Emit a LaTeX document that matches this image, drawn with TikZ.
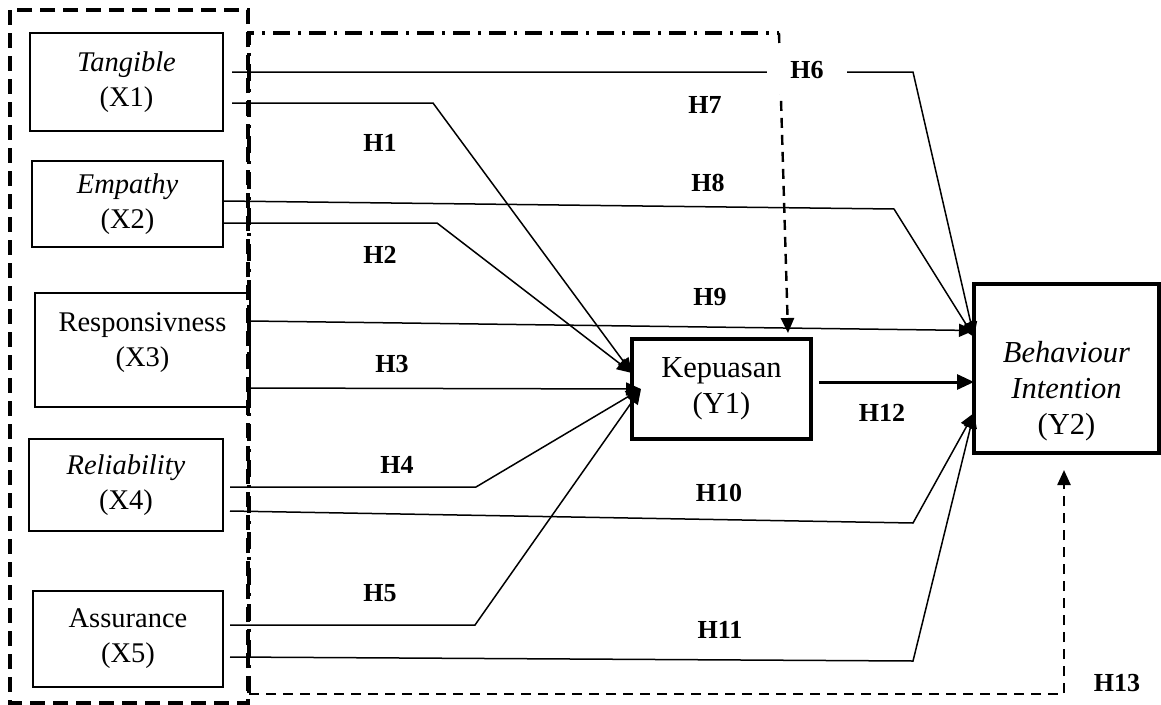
\documentclass[tikz,border=0pt]{standalone}
\usepackage{fontspec}
\setmainfont{Liberation Serif}
\usetikzlibrary{arrows.meta}
\begin{document}
\begin{tikzpicture}[x=1pt,y=1pt,
  varbox/.style={draw, line width=1.4pt, inner sep=0pt, outer sep=0pt, align=center, font=\fontsize{28.5}{35}\selectfont},
  depbox/.style={draw, line width=3.4pt, inner sep=0pt, outer sep=0pt, align=center, font=\fontsize{30.5}{36}\selectfont},
  hyp/.style={font=\fontsize{26}{30}\selectfont\bfseries, inner sep=1pt},
  conn/.style={line width=1.5pt, -{Triangle[length=15pt,width=13pt]}},
  thickconn/.style={line width=3pt, -{Triangle[length=17pt,width=15pt]}},
  grpdash/.style={line width=3.2pt, dash pattern=on 15pt off 8pt},
  grpdashdot/.style={line width=3.2pt, dash pattern=on 17pt off 8pt on 3pt off 8pt},
  hypdash/.style={line width=2.4pt, dash pattern=on 10pt off 7pt, -{Triangle[length=15pt,width=13pt]}}
]
\useasboundingbox (0,0) rectangle (1161,-704);
\fill[white] (0,0) rectangle (1161,-704);

% boxes
\node[varbox, minimum width=193, minimum height=98] (X1) at (126.5,-82) {\itshape Tangible\\(X1)};
\node[varbox, minimum width=191, minimum height=86] (X2) at (127.5,-204) {\itshape Empathy\\(X2)};
\node[varbox, minimum width=215, minimum height=114] (X3) at (142.5,-350) {Responsivness\\(X3)\rule[-20pt]{0pt}{0pt}};
\node[varbox, minimum width=194, minimum height=92] (X4) at (126,-485) {\itshape Reliability\\(X4)};
\node[varbox, minimum width=190, minimum height=96] (X5) at (128,-639) {Assurance\\(X5)};
\node[depbox, minimum width=179, minimum height=100] (Y1) at (721.5,-389) {Kepuasan\\(Y1)};
\node[depbox, minimum width=185, minimum height=169] (Y2) at (1066.5,-368.5) {\itshape\rule{0pt}{67pt}Behaviour\\\itshape Intention\\(Y2)};

% group outlines
\draw[grpdash] (10,-10) rectangle (248,-703);
\coordinate (G7) at (779,-33);
\draw[grpdashdot] (249,-693) -- (249,-33) -- (G7);
\coordinate (G13) at (249,-694);

% connectors
\draw[conn] ([shift={(9,10)}]X1.east) -- (913,-72) -- ([yshift=31.5]Y2.west);
\draw[conn] ([shift={(9,-21)}]X1.east) -- (433,-103) -- ([yshift=16]Y1.west);
\draw[conn] ([shift={(1,3)}]X2.east) -- (894,-209) -- ([yshift=31.5]Y2.west);
\draw[conn] ([shift={(1,-19)}]X2.east) -- (437,-223) -- ([yshift=16]Y1.west);
\draw[conn] ([yshift=29]X3.east) -- ([yshift=38]Y2.west);
\draw[conn] ([yshift=-38]X3.east) -- ([xshift=9]Y1.west);
\draw[conn] ([shift={(7,-2)}]X4.east) -- (476,-487) -- ([xshift=9]Y1.west);
\draw[conn] ([shift={(7,-26)}]X4.east) -- (913,-523) -- ([yshift=-44.5]Y2.west);
\draw[conn] ([shift={(7,14)}]X5.east) -- (475,-625) -- ([xshift=9]Y1.west);
\draw[conn] ([shift={(7,-18)}]X5.east) -- (913,-661) -- ([yshift=-44.5]Y2.west);
\draw[thickconn] ([shift={(8,7)}]Y1.east) -- ([yshift=-13.5]Y2.west);
\draw[hypdash] (G7) -- ([shift={(66.5,6)}]Y1.north);
\draw[hypdash] (G13) -- (1064,-694) -- ([shift={(-2.5,-17)}]Y2.south);

% hypothesis labels
\node[hyp, fill=white, minimum width=80, minimum height=48] (H6) at (807,-70) {H6};
\node[hyp] (H7) at (705,-105) {H7};
\node[hyp] (H8) at (708,-183) {H8};
\node[hyp] (H9) at (710,-297) {H9};
\node[hyp] (H1) at (380,-143) {H1};
\node[hyp] (H2) at (380,-255) {H2};
\node[hyp] (H3) at (392,-364) {H3};
\node[hyp] (H4) at (397,-465) {H4};
\node[hyp] (H5) at (380,-593) {H5};
\node[hyp] (H10) at (719,-493) {H10};
\node[hyp] (H11) at (720,-630) {H11};
\node[hyp] (H12) at (882,-413) {H12};
\node[hyp] (H13) at (1117,-683) {H13};
\end{tikzpicture}
\end{document}
